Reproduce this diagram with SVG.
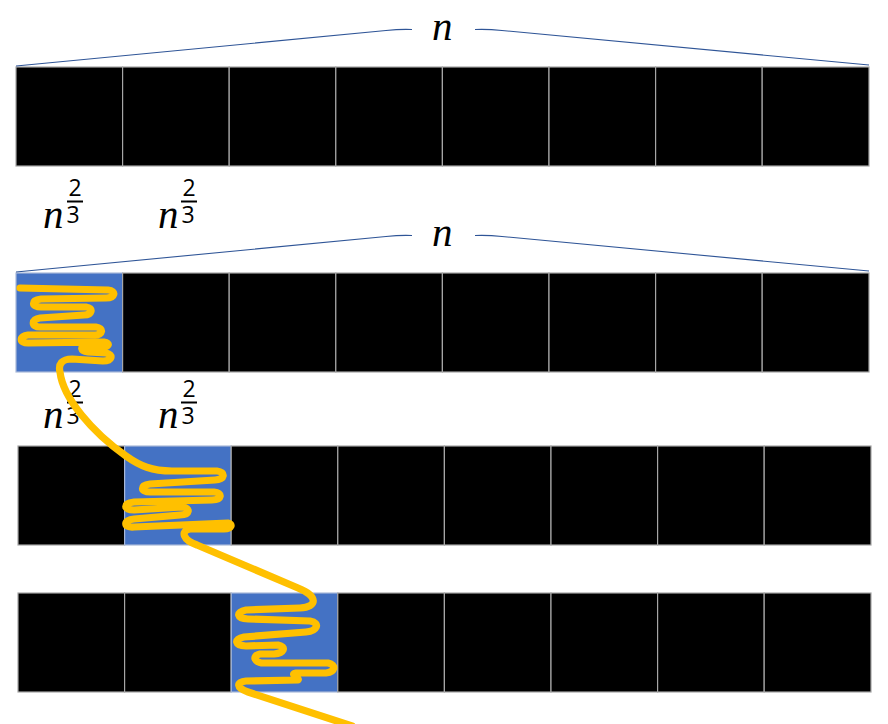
<svg xmlns="http://www.w3.org/2000/svg" width="888" height="724" viewBox="0 0 888 724">
<style>
.c{fill:#000;stroke:#a6a6a6;stroke-width:1.2}
.b{fill:#4472C4;stroke:#a9b9d9;stroke-width:1.2}
.br{fill:none;stroke:#2F5597;stroke-width:1.1}
.n{font-family:"Liberation Serif",serif;font-style:italic;font-size:41px;fill:#000}
.d{font-family:"Open Sans","Liberation Sans",sans-serif;font-size:23px;fill:#000;text-anchor:middle}
.bar{stroke:#000;stroke-width:2}
.sq{fill:none;stroke:#FFC000;stroke-width:7.2;stroke-linecap:round;stroke-linejoin:round}
</style>
<rect width="888" height="724" fill="#fff"/>
<g id="row1">
<rect id="r1c1" class="c" x="16" y="67" width="106.6" height="99"/>
<rect id="r1c2" class="c" x="122.6" y="67" width="106.6" height="99"/>
<rect id="r1c3" class="c" x="229.2" y="67" width="106.6" height="99"/>
<rect id="r1c4" class="c" x="335.8" y="67" width="106.6" height="99"/>
<rect id="r1c5" class="c" x="442.4" y="67" width="106.6" height="99"/>
<rect id="r1c6" class="c" x="549" y="67" width="106.6" height="99"/>
<rect id="r1c7" class="c" x="655.6" y="67" width="106.6" height="99"/>
<rect id="r1c8" class="c" x="762.2" y="67" width="106.8" height="99"/>
</g>
<g id="row2">
<rect id="r2c1" class="b" x="16" y="273" width="106.6" height="99"/>
<rect id="r2c2" class="c" x="122.6" y="273" width="106.6" height="99"/>
<rect id="r2c3" class="c" x="229.2" y="273" width="106.6" height="99"/>
<rect id="r2c4" class="c" x="335.8" y="273" width="106.6" height="99"/>
<rect id="r2c5" class="c" x="442.4" y="273" width="106.6" height="99"/>
<rect id="r2c6" class="c" x="549" y="273" width="106.6" height="99"/>
<rect id="r2c7" class="c" x="655.6" y="273" width="106.6" height="99"/>
<rect id="r2c8" class="c" x="762.2" y="273" width="106.8" height="99"/>
</g>
<g id="row3">
<rect id="r3c1" class="c" x="18" y="446" width="106.6" height="99"/>
<rect id="r3c2" class="b" x="124.6" y="446" width="106.6" height="99"/>
<rect id="r3c3" class="c" x="231.2" y="446" width="106.6" height="99"/>
<rect id="r3c4" class="c" x="337.8" y="446" width="106.6" height="99"/>
<rect id="r3c5" class="c" x="444.4" y="446" width="106.6" height="99"/>
<rect id="r3c6" class="c" x="551" y="446" width="106.6" height="99"/>
<rect id="r3c7" class="c" x="657.6" y="446" width="106.6" height="99"/>
<rect id="r3c8" class="c" x="764.2" y="446" width="106.8" height="99"/>
</g>
<g id="row4">
<rect id="r4c1" class="c" x="18" y="593" width="106.6" height="99"/>
<rect id="r4c2" class="c" x="124.6" y="593" width="106.6" height="99"/>
<rect id="r4c3" class="b" x="231.2" y="593" width="106.6" height="99"/>
<rect id="r4c4" class="c" x="337.8" y="593" width="106.6" height="99"/>
<rect id="r4c5" class="c" x="444.4" y="593" width="106.6" height="99"/>
<rect id="r4c6" class="c" x="551" y="593" width="106.6" height="99"/>
<rect id="r4c7" class="c" x="657.6" y="593" width="106.6" height="99"/>
<rect id="r4c8" class="c" x="764.2" y="593" width="106.8" height="99"/>
</g>
<g id="brace1">
<path class="br" d="M16,66 L386,30.5 Q400,29 412,29.5"/>
<path class="br" d="M475,29.5 Q488,29 502,30.5 L869,65"/>
<text class="n" x="432" y="40">n</text>
</g>
<g id="brace2">
<path class="br" d="M16,272 L386,236.5 Q400,235 412,235.5"/>
<path class="br" d="M475,235.5 Q488,235 502,236.5 L869,271"/>
<text class="n" x="432" y="246">n</text>
</g>
<g id="labels1">
<text class="n" x="43" y="228">n</text>
<text class="d" x="75" y="196">2</text>
<line class="bar" x1="67" y1="201.5" x2="83" y2="201.5"/>
<text class="d" x="73" y="223">3</text>
<text class="n" x="158" y="228">n</text>
<text class="d" x="189" y="196">2</text>
<line class="bar" x1="181" y1="201.5" x2="197" y2="201.5"/>
<text class="d" x="188" y="223">3</text>
</g>
<g id="labels2">
<text class="n" x="43" y="428">n</text>
<text class="d" x="75" y="397">2</text>
<line class="bar" x1="67" y1="402.5" x2="83" y2="402.5"/>
<text class="d" x="73" y="424">3</text>
<text class="n" x="158" y="428">n</text>
<text class="d" x="189" y="397">2</text>
<line class="bar" x1="181" y1="402.5" x2="197" y2="402.5"/>
<text class="d" x="188" y="424">3</text>
</g>
<g id="connectors">
<path class="sq" d="M20,288 L108,290 C117,291 115,298 106,298 L41,299 C31,300 31,307 41,307 L86,307 C94,308 92,315 84,315 L40,318 C31,319 31,327 40,327 L96,327 C104,328 103,335 95,335 L28,335 C19,336 19,343 28,343 L104,342 C111,343 109,348 100,347 L86,346 C80,346 80,351 88,352 L106,353 C114,355 112,361 103,361 L72,359 C62,359 58,364 60,372 C63,398 92,432 126,456 C140,466 152,471 172,471 L217,471 C226,472 225,480 215,480 L150,484 C140,485 140,492 150,492 L214,492 C223,493 222,500 212,500 L134,502 C123,503 123,510 134,510 L182,507 C191,508 190,515 180,515 L134,519 C123,520 123,528 134,527 L228,523 C233,524 232,529 224,529 L190,529 C180,531 183,540 197,545 L298,588 C318,596 318,607 300,608 L246,610 C235,612 237,619 248,619 L310,621 C321,623 317,631 306,632 L244,637 C233,639 235,646 246,646 L278,645 C287,647 284,653 274,654 L260,654 C251,656 255,663 264,663 L328,663 C337,665 335,672 326,673 L296,673 C289,674 300,678 298,680 L246,681 C236,682 236,688 248,692 L352,726"/>
</g>
</svg>
